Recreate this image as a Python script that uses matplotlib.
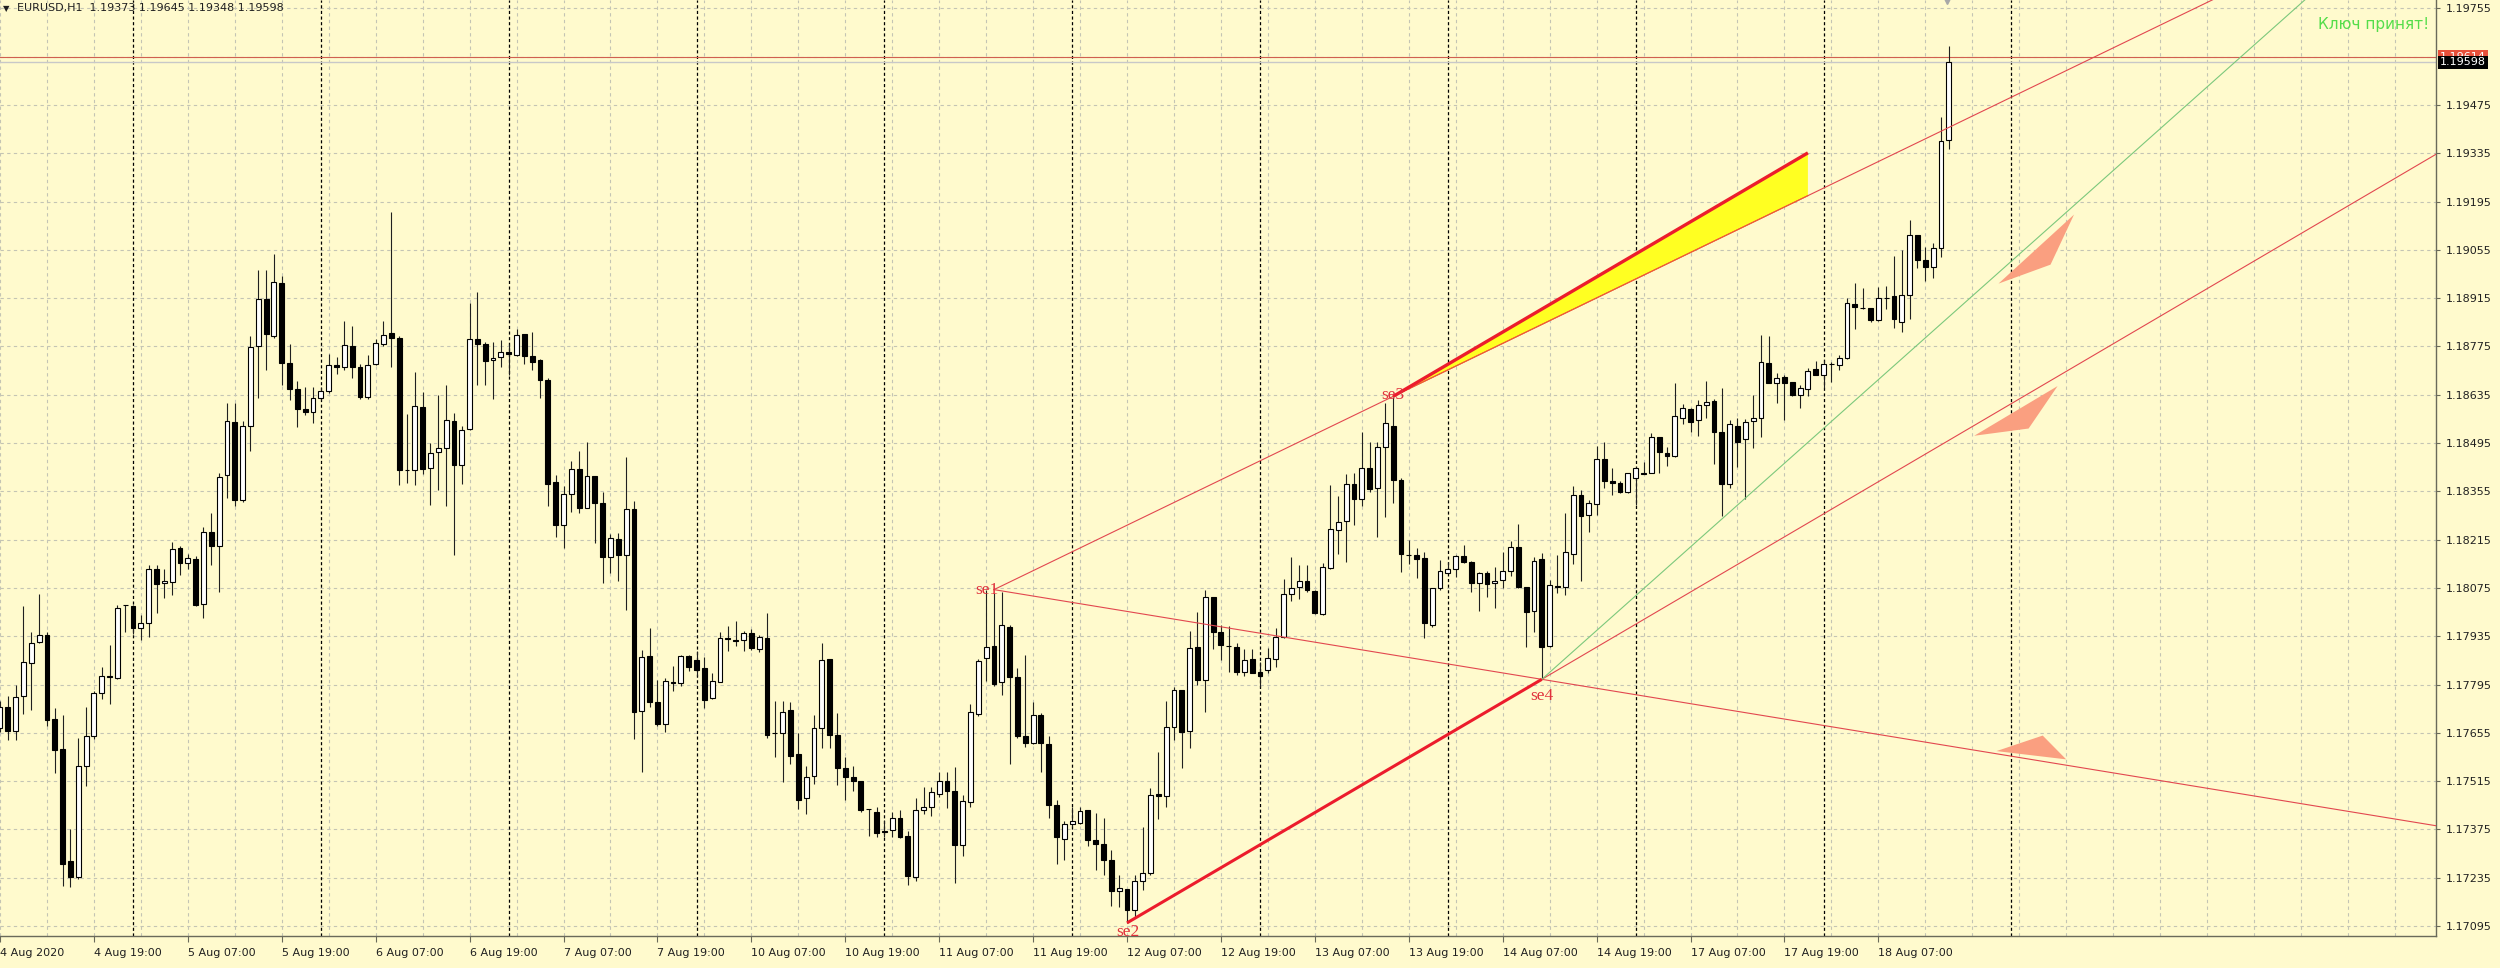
import matplotlib
matplotlib.use("Agg")
import matplotlib.pyplot as plt
import matplotlib.transforms as mtransforms
from matplotlib.patches import Polygon
import numpy as np

# ---------------- data ----------------
header_text = "EURUSD,H1  1.19373 1.19645 1.19348 1.19598"
first_bar = -17          # bar 0 = 5 Aug 00:00, one bar per hour, 4 Aug 07:00 is bar -17

o_aug04 = [1.17670,1.17731,1.17660,1.17761,1.17856,1.17919,1.17938,1.17695,1.17607,1.17283,1.17236,1.17559,1.17647,1.17771,1.17820,1.17815,1.18025]
h_aug04 = [1.17746,1.17762,1.17793,1.18022,1.17947,1.18057,1.17947,1.17727,1.17708,1.17375,1.17639,1.17730,1.17777,1.17846,1.17909,1.18025,1.18025]
l_aug04 = [1.17658,1.17635,1.17635,1.17710,1.17720,1.17915,1.17676,1.17538,1.17211,1.17207,1.17232,1.17500,1.17636,1.17752,1.17739,1.17811,1.17947]
c_aug04 = [1.17731,1.17660,1.17758,1.17859,1.17915,1.17938,1.17693,1.17605,1.17274,1.17236,1.17559,1.17645,1.17771,1.17821,1.17818,1.18018,1.18024]

o_aug05 = [1.18022,1.17959,1.17974,1.18129,1.18089,1.18091,1.18192,1.18148,1.18160,1.18027,1.18236,1.18196,1.18402,1.18557,1.18330,1.18543,1.18777,1.18912,1.18806,1.18959,1.18726,1.18651,1.18593,1.18586]
h_aug05 = [1.18025,1.17997,1.18142,1.18142,1.18129,1.18208,1.18196,1.18173,1.18167,1.18251,1.18293,1.18409,1.18611,1.18611,1.18560,1.18806,1.18997,1.18997,1.19043,1.18978,1.18783,1.18674,1.18657,1.18657]
l_aug05 = [1.17940,1.17924,1.17934,1.18003,1.18045,1.18054,1.18113,1.18129,1.18022,1.17987,1.18142,1.18062,1.18336,1.18311,1.18324,1.18472,1.18626,1.18708,1.18799,1.18664,1.18619,1.18540,1.18576,1.18553]
c_aug05 = [1.17959,1.17972,1.18129,1.18085,1.18095,1.18189,1.18148,1.18163,1.18025,1.18236,1.18196,1.18397,1.18559,1.18330,1.18544,1.18773,1.18911,1.18812,1.18963,1.18726,1.18651,1.18594,1.18586,1.18626]

o_aug06 = [1.18626,1.18645,1.18720,1.18716,1.18777,1.18716,1.18628,1.18724,1.18783,1.18814,1.18799,1.18418,1.18417,1.18599,1.18423,1.18470,1.18481,1.18558,1.18431,1.18536,1.18796,1.18781,1.18736,1.18743]
h_aug06 = [1.18657,1.18752,1.18745,1.18850,1.18833,1.18724,1.18749,1.18796,1.18850,1.19165,1.18804,1.18578,1.18700,1.18643,1.18496,1.18634,1.18663,1.18583,1.18544,1.18901,1.18934,1.18789,1.18789,1.18794]
l_aug06 = [1.18619,1.18641,1.18695,1.18708,1.18682,1.18623,1.18623,1.18720,1.18777,1.18714,1.18374,1.18380,1.18374,1.18406,1.18314,1.18358,1.18311,1.18171,1.18376,1.18534,1.18664,1.18664,1.18624,1.18716]
c_aug06 = [1.18645,1.18720,1.18716,1.18779,1.18716,1.18628,1.18720,1.18785,1.18808,1.18799,1.18418,1.18416,1.18601,1.18419,1.18466,1.18481,1.18561,1.18431,1.18534,1.18796,1.18781,1.18734,1.18741,1.18758]

o_aug07 = [1.18758,1.18749,1.18810,1.18746,1.18736,1.18678,1.18381,1.18258,1.18346,1.18421,1.18308,1.18398,1.18321,1.18166,1.18218,1.18171,1.18304,1.17719,1.17878,1.17744,1.17681,1.17801,1.17798,1.17878]
h_aug07 = [1.18781,1.18826,1.18810,1.18816,1.18738,1.18684,1.18401,1.18371,1.18444,1.18471,1.18499,1.18398,1.18354,1.18231,1.18234,1.18454,1.18326,1.17896,1.17959,1.17809,1.17814,1.17848,1.17881,1.17881]
l_aug07 = [1.18691,1.18748,1.18724,1.18708,1.18626,1.18311,1.18224,1.18191,1.18294,1.18291,1.18308,1.18204,1.18088,1.18118,1.18096,1.18011,1.17636,1.17541,1.17729,1.17674,1.17656,1.17776,1.17791,1.17833]
c_aug07 = [1.18753,1.18808,1.18746,1.18731,1.18678,1.18376,1.18256,1.18346,1.18421,1.18308,1.18398,1.18321,1.18166,1.18221,1.18169,1.18304,1.17716,1.17874,1.17744,1.17681,1.17804,1.17800,1.17879,1.17846]

o_aug10 = [1.17866,1.17843,1.17756,1.17801,1.17929,1.17923,1.17923,1.17944,1.17899,1.17929,1.17654,1.17654,1.17721,1.17594,1.17465,1.17531,1.17668,1.17868,1.17649,1.17552,1.17528,1.17514,1.17434,1.17424]
h_aug10 = [1.17891,1.17876,1.17828,1.17946,1.17964,1.17978,1.17951,1.17956,1.17938,1.18001,1.17748,1.17748,1.17743,1.17654,1.17558,1.17708,1.17914,1.17868,1.17712,1.17584,1.17559,1.17516,1.17434,1.17439]
l_aug10 = [1.17821,1.17726,1.17754,1.17801,1.17891,1.17906,1.17891,1.17896,1.17888,1.17641,1.17586,1.17511,1.17566,1.17435,1.17420,1.17508,1.17610,1.17610,1.17504,1.17459,1.17485,1.17424,1.17356,1.17354]
c_aug10 = [1.17836,1.17751,1.17804,1.17931,1.17928,1.17922,1.17944,1.17901,1.17933,1.17648,1.17653,1.17716,1.17588,1.17460,1.17526,1.17668,1.17866,1.17649,1.17552,1.17526,1.17514,1.17431,1.17433,1.17366]

o_aug11 = [1.17369,1.17372,1.17407,1.17356,1.17238,1.17431,1.17439,1.17478,1.17514,1.17485,1.17330,1.17453,1.17710,1.17871,1.17907,1.17803,1.17963,1.17818,1.17646,1.17625,1.17707,1.17623,1.17446,1.17346]
h_aug11 = [1.17402,1.17424,1.17430,1.17369,1.17465,1.17497,1.17497,1.17542,1.17542,1.17555,1.17475,1.17739,1.17868,1.18069,1.18061,1.18064,1.17968,1.17842,1.17881,1.17745,1.17712,1.17646,1.17460,1.17398]
l_aug11 = [1.17354,1.17352,1.17349,1.17214,1.17224,1.17420,1.17414,1.17468,1.17436,1.17219,1.17298,1.17439,1.17704,1.17806,1.17791,1.17765,1.17565,1.17639,1.17613,1.17623,1.17542,1.17407,1.17275,1.17285]
c_aug11 = [1.17368,1.17409,1.17352,1.17240,1.17431,1.17439,1.17482,1.17514,1.17485,1.17330,1.17456,1.17714,1.17864,1.17905,1.17797,1.17968,1.17816,1.17646,1.17625,1.17707,1.17625,1.17446,1.17352,1.17391]

o_aug12 = [1.17391,1.17395,1.17430,1.17344,1.17333,1.17286,1.17197,1.17202,1.17140,1.17224,1.17248,1.17477,1.17472,1.17673,1.17779,1.17661,1.17903,1.17808,1.18048,1.17948,1.17908,1.17903,1.17832,1.17868]
h_aug12 = [1.17441,1.17441,1.17430,1.17422,1.17407,1.17316,1.17243,1.17202,1.17243,1.17383,1.17494,1.17600,1.17748,1.17789,1.17779,1.17951,1.18006,1.18070,1.18050,1.17968,1.17965,1.17915,1.17897,1.17897]
l_aug12 = [1.17383,1.17391,1.17327,1.17257,1.17243,1.17153,1.17151,1.17104,1.17117,1.17200,1.17243,1.17404,1.17439,1.17634,1.17552,1.17610,1.17794,1.17714,1.17897,1.17866,1.17832,1.17823,1.17820,1.17829]
c_aug12 = [1.17398,1.17427,1.17344,1.17333,1.17286,1.17195,1.17204,1.17140,1.17224,1.17248,1.17475,1.17472,1.17673,1.17779,1.17658,1.17900,1.17808,1.18048,1.17948,1.17910,1.17906,1.17832,1.17866,1.17829]

o_aug13 = [1.17832,1.17837,1.17868,1.17932,1.18057,1.18077,1.18096,1.18067,1.17999,1.18132,1.18243,1.18270,1.18376,1.18332,1.18422,1.18364,1.18484,1.18545,1.18388,1.18171,1.18171,1.18161,1.17968,1.18074]
h_aug13 = [1.17861,1.17900,1.17958,1.18100,1.18166,1.18142,1.18142,1.18069,1.18148,1.18373,1.18342,1.18405,1.18409,1.18528,1.18499,1.18499,1.18612,1.18627,1.18393,1.18214,1.18190,1.18180,1.18074,1.18156]
l_aug13 = [1.17789,1.17828,1.17847,1.17929,1.18038,1.18042,1.18064,1.17999,1.17997,1.18129,1.18173,1.18151,1.18257,1.18312,1.18354,1.18224,1.18280,1.18322,1.18122,1.18144,1.18103,1.17929,1.17963,1.18069]
c_aug13 = [1.17820,1.17871,1.17934,1.18057,1.18074,1.18096,1.18069,1.18003,1.18135,1.18245,1.18267,1.18376,1.18332,1.18422,1.18361,1.18483,1.18552,1.18388,1.18173,1.18170,1.18158,1.17974,1.18074,1.18125]

o_aug14 = [1.18119,1.18129,1.18168,1.18151,1.18090,1.18117,1.18088,1.18098,1.18125,1.18193,1.18077,1.18009,1.18158,1.17907,1.18080,1.18079,1.18173,1.18344,1.18286,1.18318,1.18448,1.18386,1.18378,1.18354]
h_aug14 = [1.18151,1.18171,1.18199,1.18154,1.18122,1.18125,1.18135,1.18180,1.18212,1.18260,1.18079,1.18166,1.18175,1.18098,1.18171,1.18291,1.18369,1.18359,1.18330,1.18486,1.18499,1.18422,1.18386,1.18409]
l_aug14 = [1.18117,1.18106,1.18146,1.18064,1.18009,1.18048,1.18016,1.18074,1.18110,1.18074,1.17903,1.17946,1.17810,1.17905,1.18059,1.18055,1.18144,1.18096,1.18238,1.18286,1.18364,1.18344,1.18349,1.18351]
c_aug14 = [1.18129,1.18167,1.18151,1.18090,1.18117,1.18086,1.18096,1.18125,1.18193,1.18077,1.18006,1.18154,1.17903,1.18084,1.18079,1.18180,1.18344,1.18282,1.18322,1.18448,1.18386,1.18378,1.18354,1.18407]

o_aug17 = [1.18393,1.18407,1.18409,1.18512,1.18467,1.18458,1.18567,1.18593,1.18562,1.18606,1.18618,1.18528,1.18376,1.18544,1.18506,1.18560,1.18567,1.18728,1.18670,1.18686,1.18673,1.18634,1.18651,1.18709]
h_aug17 = [1.18425,1.18441,1.18525,1.18512,1.18483,1.18670,1.18608,1.18596,1.18620,1.18676,1.18622,1.18654,1.18562,1.18567,1.18564,1.18634,1.18808,1.18804,1.18697,1.18692,1.18673,1.18663,1.18712,1.18734]
l_aug17 = [1.18315,1.18405,1.18407,1.18407,1.18428,1.18454,1.18550,1.18528,1.18516,1.18567,1.18434,1.18282,1.18364,1.18425,1.18332,1.18480,1.18512,1.18670,1.18612,1.18562,1.18631,1.18596,1.18631,1.18692]
c_aug17 = [1.18422,1.18406,1.18512,1.18470,1.18456,1.18572,1.18596,1.18557,1.18606,1.18615,1.18528,1.18376,1.18550,1.18499,1.18557,1.18567,1.18731,1.18670,1.18683,1.18670,1.18634,1.18654,1.18705,1.18692]

o_aug18 = [1.18692,1.18724,1.18721,1.18741,1.18898,1.18886,1.18886,1.18852,1.18915,1.18921,1.18847,1.18924,1.19098,1.19026,1.19004,1.19059,1.19373]
h_aug18 = [1.18736,1.18731,1.18750,1.18915,1.18960,1.18944,1.18886,1.18946,1.18950,1.19037,1.19055,1.19142,1.19098,1.19064,1.19074,1.19441,1.19645]
l_aug18 = [1.18654,1.18673,1.18707,1.18738,1.18825,1.18883,1.18847,1.18850,1.18883,1.18827,1.18818,1.18854,1.19001,1.18966,1.18972,1.19035,1.19348]
c_aug18 = [1.18724,1.18723,1.18741,1.18900,1.18889,1.18885,1.18852,1.18915,1.18914,1.18854,1.18924,1.19098,1.19026,1.19004,1.19059,1.19370,1.19598]

opens = o_aug04 + o_aug05 + o_aug06 + o_aug07 + o_aug10 + o_aug11 + o_aug12 + o_aug13 + o_aug14 + o_aug17 + o_aug18
highs = h_aug04 + h_aug05 + h_aug06 + h_aug07 + h_aug10 + h_aug11 + h_aug12 + h_aug13 + h_aug14 + h_aug17 + h_aug18
lows = l_aug04 + l_aug05 + l_aug06 + l_aug07 + l_aug10 + l_aug11 + l_aug12 + l_aug13 + l_aug14 + l_aug17 + l_aug18
closes = c_aug04 + c_aug05 + c_aug06 + c_aug07 + c_aug10 + c_aug11 + c_aug12 + c_aug13 + c_aug14 + c_aug17 + c_aug18

time_tick_bars = [-17, -5, 7, 19, 31, 43, 55, 67, 79, 91, 103, 115, 127, 139, 151, 163, 175, 187, 199, 211, 223]
time_tick_labels = ["4 Aug 2020", "4 Aug 19:00", "5 Aug 07:00", "5 Aug 19:00", "6 Aug 07:00", "6 Aug 19:00",
                    "7 Aug 07:00", "7 Aug 19:00", "10 Aug 07:00", "10 Aug 19:00", "11 Aug 07:00", "11 Aug 19:00",
                    "12 Aug 07:00", "12 Aug 19:00", "13 Aug 07:00", "13 Aug 19:00", "14 Aug 07:00", "14 Aug 19:00",
                    "17 Aug 07:00", "17 Aug 19:00", "18 Aug 07:00"]
day_start_bars = [0, 24, 48, 72, 96, 120, 144, 168, 192, 216, 240]

price_grid = [1.17095, 1.17235, 1.17375, 1.17515, 1.17655, 1.17795, 1.17935, 1.18075, 1.18215, 1.18355,
              1.18495, 1.18635, 1.18775, 1.18915, 1.19055, 1.19195, 1.19335, 1.19475, 1.19615, 1.19755]
price_labels_hidden = [1.19615]

pivot_names = ["se1", "se2", "se3", "se4"]
pivot_bars = [110, 127, 161, 180]
pivot_prices = [1.18070, 1.17104, 1.18630, 1.17810]
pivot_label_bars = [109.1, 127.1, 160.9, 180.0]
pivot_label_prices = [1.18069, 1.17078, 1.18634, 1.17762]

channel_end_bar = 214
green_line_bars = [180, 230]
green_line_prices = [1.17810, 1.18820]
hline_price = 1.19614
bid_price = 1.19598
shift_marker_bar = 231.8

tri1_bars = [238.35, 248.0, 245.0]
tri1_prices = [1.18957, 1.19157, 1.19012]
tri2_bars = [235.25, 245.9, 242.2]
tri2_prices = [1.18516, 1.18660, 1.18537]
tri3_bars = [238.1, 244.0, 247.0]
tri3_prices = [1.17602, 1.17647, 1.17578]

status_text = "Ключ принят!"

# ---------------- style ----------------
BG = "#fffacd"
GRID = "#c4c4b4"
THIN_RED = "#e2474f"
THICK_RED = "#ec1c2c"
SALMON = "#fa9f80"

W, H = 2500, 968
PLOT_W, PLOT_H = 2436, 936
fig = plt.figure(figsize=(W / 100, H / 100), dpi=100, facecolor=BG)
ax = fig.add_axes([0, (H - PLOT_H) / H, PLOT_W / W, PLOT_H / H], facecolor=BG)

bar_px = 7.83
xmin = -132 / bar_px
xmax = (PLOT_W - 132) / bar_px
ymax = 1.197791
ymin = ymax - PLOT_H * 2.8986e-5
ax.set_xlim(xmin, xmax)
ax.set_ylim(ymin, ymax)

n = len(opens)
assert len(highs) == n and len(lows) == n and len(closes) == n, (len(opens), len(highs), len(lows), len(closes))
x = np.arange(first_bar, first_bar + n)
O = np.array(opens); Hh = np.array(highs); L = np.array(lows); C = np.array(closes)

# grid
for g in np.arange(first_bar, xmax, 6):
    ax.axvline(g, color=GRID, lw=0.8, ls=(0, (3, 3)), zorder=0.5)
for p in price_grid:
    ax.axhline(p, color=GRID, lw=0.8, ls=(0, (3, 3)), zorder=0.5)
for d in day_start_bars:
    ax.axvline(d, color="black", lw=0.9, ls=(0, (2.5, 2)), zorder=1)

# horizontal lines
ax.axhline(bid_price, color="#c8c8c8", lw=1.0, zorder=1.5)
ax.axhline(hline_price, color="#d06050", lw=0.8, zorder=1.6)

# candles
ax.vlines(x, L, Hh, colors="#202020", linewidth=0.8, zorder=3)
up = C >= O
bw = 0.62
ax.bar(x[up], (C - O)[up], bottom=O[up], width=bw, color="white", edgecolor="black", linewidth=0.8, zorder=4)
ax.bar(x[~up], (O - C)[~up], bottom=C[~up], width=bw, color="black", edgecolor="black", linewidth=0.8, zorder=4)

# lines
def price_at(b0, p0, b1, p1, b):
    return p0 + (p1 - p0) * (b - b0) / (b1 - b0)

s1b, s2b, s3b, s4b = pivot_bars
s1p, s2p, s3p, s4p = pivot_prices

ax.plot([s1b, xmax], [s1p, price_at(s1b, s1p, s3b, s3p, xmax)], color=THIN_RED, lw=0.8, zorder=5)
ax.plot([s1b, xmax], [s1p, price_at(s1b, s1p, s4b, s4p, xmax)], color=THIN_RED, lw=0.8, zorder=5)
ax.plot([s2b, s4b], [s2p, s4p], color=THICK_RED, lw=2.2, zorder=6, solid_capstyle="butt")
ax.plot([s4b, xmax], [s4p, price_at(s2b, s2p, s4b, s4p, xmax)], color=THIN_RED, lw=0.8, zorder=5)
ax.plot([green_line_bars[0], xmax],
        [green_line_prices[0], price_at(green_line_bars[0], green_line_prices[0], green_line_bars[1], green_line_prices[1], xmax)],
        color="#7cc87c", lw=0.8, zorder=5)

slope_24 = (s4p - s2p) / (s4b - s2b)
end_top = s3p + slope_24 * (channel_end_bar - s3b)
end_bot = price_at(s1b, s1p, s3b, s3p, channel_end_bar)
ax.add_patch(Polygon([[s3b, s3p], [channel_end_bar, end_top], [channel_end_bar, end_bot]],
                     closed=True, facecolor="#ffff22", edgecolor="none", zorder=4.5))
ax.plot([s3b, channel_end_bar], [s3p, end_bot], color="#f06030", lw=0.8, zorder=5.5)
ax.plot([s3b, channel_end_bar], [s3p, end_top], color=THICK_RED, lw=2.4, zorder=6, solid_capstyle="butt")

for tb, tp in [(tri1_bars, tri1_prices), (tri2_bars, tri2_prices), (tri3_bars, tri3_prices)]:
    ax.add_patch(Polygon(list(zip(tb, tp)), closed=True, facecolor=SALMON, edgecolor="none", zorder=5))

for name, b, p in zip(pivot_names, pivot_label_bars, pivot_label_prices):
    ax.text(b, p, name, ha="center", va="center", fontsize=12.5, family=["Liberation Serif", "DejaVu Serif"],
            color="#e0303c", zorder=7)

# chart shift marker
ax.plot([shift_marker_bar], [ymax], marker="v", markersize=6, color="#a8a8a8", clip_on=False, zorder=8)

# header and status
ax.text(3 / PLOT_W, 1 - 8.5 / PLOT_H, "\u25bc", transform=ax.transAxes, fontsize=6, va="center", ha="left", color="#202020")
ax.text(17 / PLOT_W, 1 - 8.5 / PLOT_H, header_text, transform=ax.transAxes, fontsize=8, va="center", ha="left", color="#202020")
ax.text(2429 / PLOT_W, 1 - 24.5 / PLOT_H, status_text, transform=ax.transAxes, fontsize=11, va="center", ha="right",
        color="#55dd4a")

for side in ["left", "top"]:
    ax.spines[side].set_visible(False)
for side in ["right", "bottom"]:
    ax.spines[side].set_color("#6a6a5a")
    ax.spines[side].set_linewidth(1.0)

ax.yaxis.tick_right()
ax.set_yticks([p for p in price_grid if p not in price_labels_hidden])
ax.set_yticklabels(["%.5f" % p for p in price_grid if p not in price_labels_hidden])
ax.tick_params(axis="y", which="both", right=True, left=False, labelright=True, labelleft=False,
               length=3, width=0.8, pad=4, labelsize=8, colors="#6a6a5a", labelcolor="#202020")
ax.set_xticks(time_tick_bars)
ax.set_xticklabels(time_tick_labels, ha="left")
ax.tick_params(axis="x", length=4, width=0.8, pad=5, labelsize=8, colors="#6a6a5a", labelcolor="#202020")

trans = mtransforms.blended_transform_factory(ax.transAxes, ax.transData)
ax.text(1 + 4 / PLOT_W, hline_price, "%.5f" % hline_price, transform=trans, fontsize=8, va="center", ha="left",
        color="white", bbox=dict(boxstyle="square,pad=0.15", fc="#e8503a", ec="none"), clip_on=False, zorder=8)
ax.text(1 + 4 / PLOT_W, bid_price, "%.5f" % bid_price, transform=trans, fontsize=8, va="center", ha="left",
        color="white", bbox=dict(boxstyle="square,pad=0.15", fc="black", ec="none"), clip_on=False, zorder=9)

fig.savefig("out.png", dpi=100, facecolor=BG)
